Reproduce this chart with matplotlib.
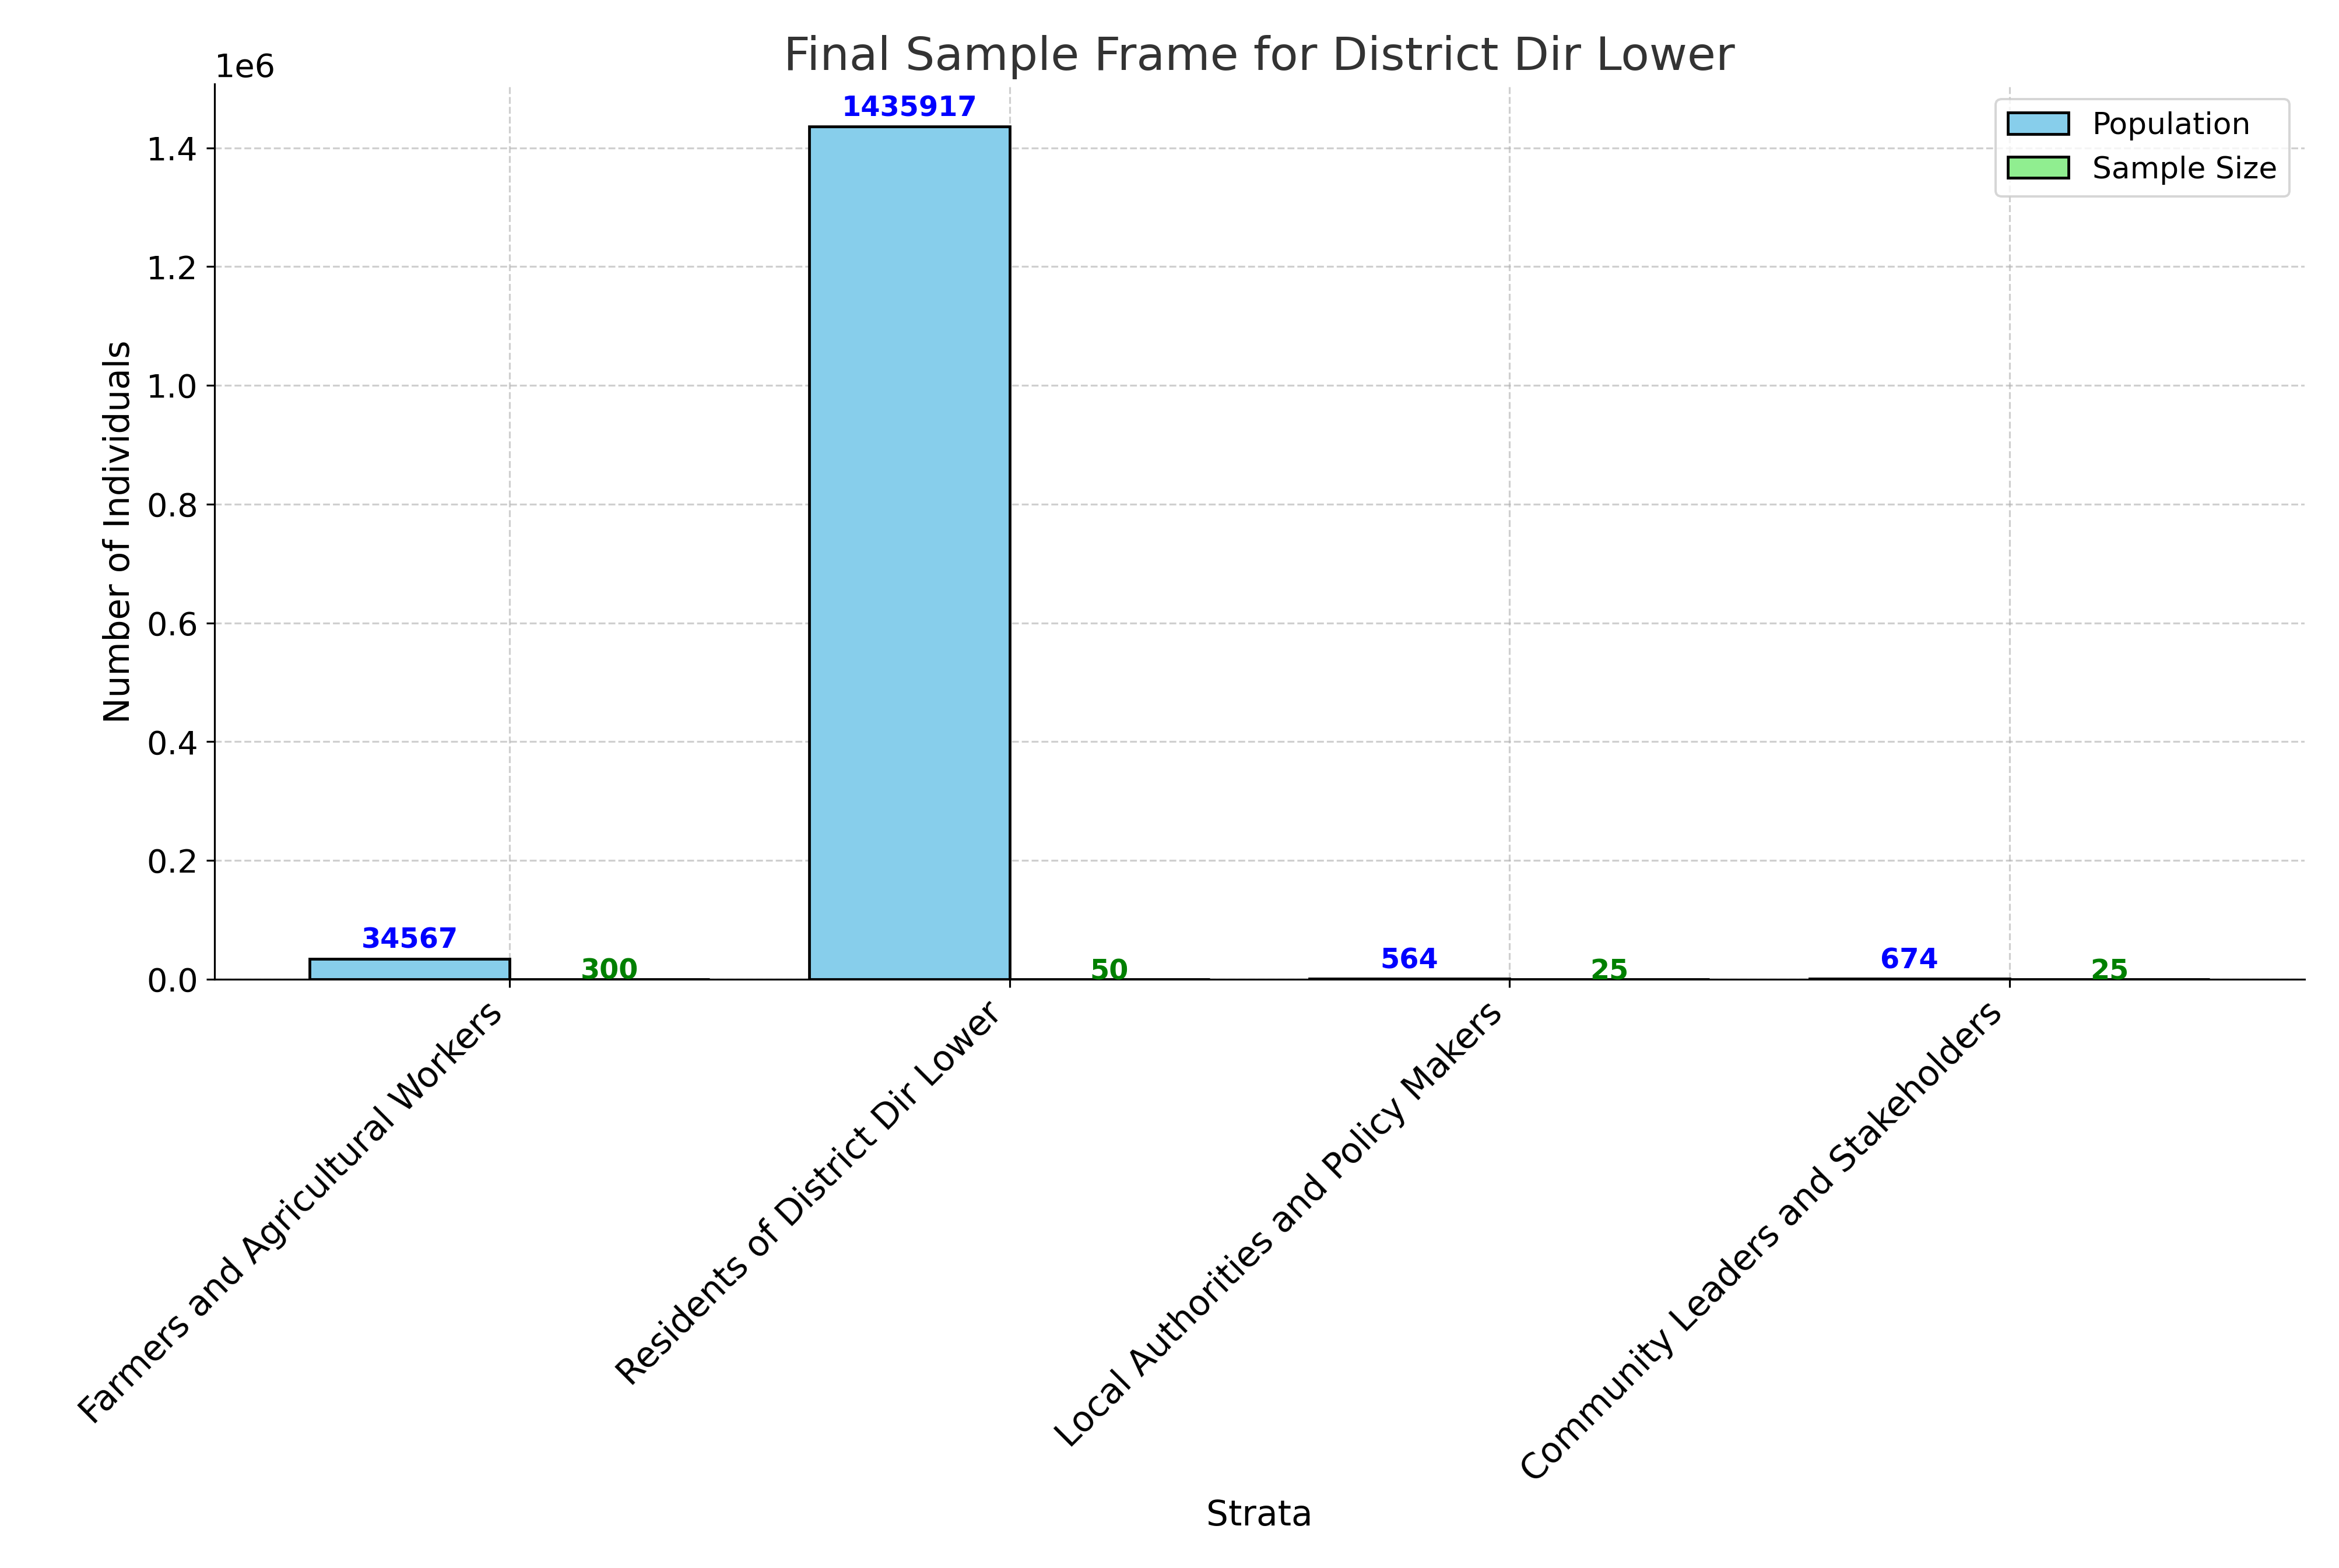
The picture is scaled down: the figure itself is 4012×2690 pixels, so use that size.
import matplotlib
matplotlib.use("Agg")
import matplotlib.pyplot as plt
import numpy as np

categories = ["Farmers and Agricultural Workers", "Residents of District Dir Lower",
              "Local Authorities and Policy Makers", "Community Leaders and Stakeholders"]
population = [34567, 1435917, 564, 674]
sample_size = [300, 50, 25, 25]

plt.rcParams["font.size"] = 14
fig, ax = plt.subplots(figsize=(14, 9.385), dpi=286.64)
x = np.arange(len(categories))
w = 0.4
b1 = ax.bar(x - w/2, population, w, color="skyblue", edgecolor="black", linewidth=1.2, label="Population")
b2 = ax.bar(x + w/2, sample_size, w, color="lightgreen", edgecolor="black", linewidth=1.2, label="Sample Size")
for r, v in zip(b1, population):
    ax.text(r.get_x() + r.get_width()/2, v + 8000, str(v), ha="center", va="bottom",
            color="blue", fontweight="bold", fontsize=12)
for r, v in zip(b2, sample_size):
    ax.text(r.get_x() + r.get_width()/2, v - 10000, str(v), ha="center", va="bottom",
            color="green", fontweight="bold", fontsize=12)
ax.set_xticks(x)
ax.set_xticklabels(categories, rotation=45, ha="right", fontsize=15)
ax.tick_params(axis="y", labelsize=14)
ax.yaxis.get_offset_text().set_fontsize(14)
ax.set_xlabel("Strata", fontsize=15)
ax.set_ylabel("Number of Individuals", fontsize=15)
ax.set_title("Final Sample Frame for District Dir Lower", fontsize=20, color="#333333")
ax.grid(True, linestyle="--", alpha=0.6)
ax.set_axisbelow(True)
ax.spines["top"].set_visible(False)
ax.spines["right"].set_visible(False)
ax.set_xlim(-0.59, 3.59)
ax.legend(fontsize=13)
plt.tight_layout()
fig.savefig("out.png")
